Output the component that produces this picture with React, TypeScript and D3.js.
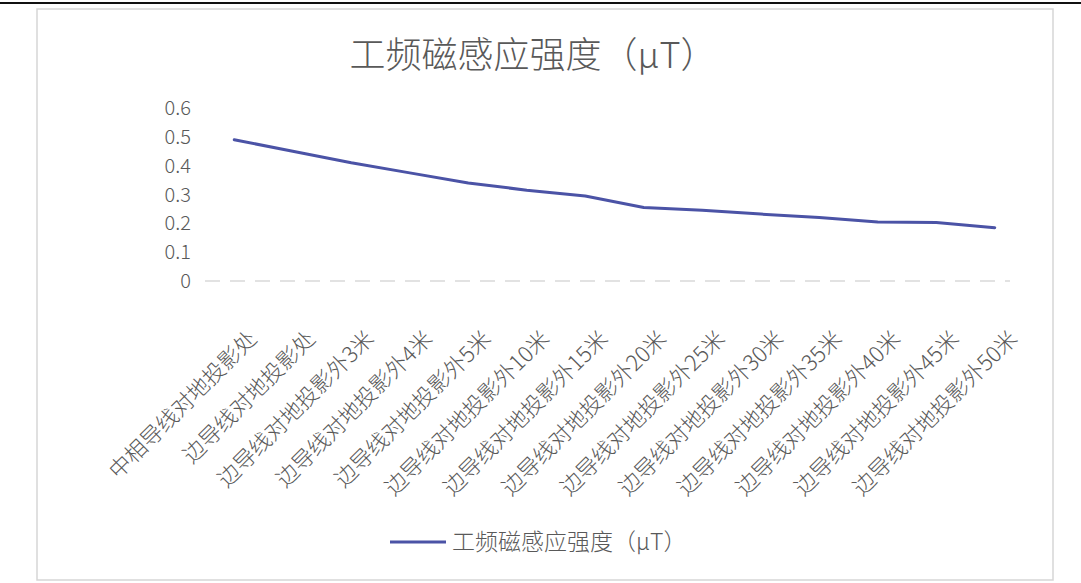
import React from "react";
import * as d3 from "d3";

const categories: string[] = [
  "中相导线对地投影处",
  "边导线对地投影处",
  "边导线对地投影外3米",
  "边导线对地投影外4米",
  "边导线对地投影外5米",
  "边导线对地投影外10米",
  "边导线对地投影外15米",
  "边导线对地投影外20米",
  "边导线对地投影外25米",
  "边导线对地投影外30米",
  "边导线对地投影外35米",
  "边导线对地投影外40米",
  "边导线对地投影外45米",
  "边导线对地投影外50米",
];

const values: number[] = [0.49, 0.45, 0.41, 0.375, 0.34, 0.315, 0.295, 0.255, 0.245, 0.232, 0.22, 0.205, 0.203, 0.185];

const yTicks: number[] = [0, 0.1, 0.2, 0.3, 0.4, 0.5, 0.6];
const yTickLabels: string[] = ["0", "0.1", "0.2", "0.3", "0.4", "0.5", "0.6"];

const title = "工频磁感应强度（μT）";
const seriesName = "工频磁感应强度（μT）";

const W = 1081;
const H = 583;
const plotLeft = 205;
const plotRight = 1024;
const plotTop = 108;
const plotBottom = 281;

const FONT = "'Noto Sans CJK SC', 'Noto Sans', sans-serif";
const TEXT = "#595959";
const LINE = "#4b53a6";

export default function App() {
  const x = d3.scaleBand<string>().domain(categories).range([plotLeft, plotRight]);
  const cx = (c: string) => (x(c) as number) + x.bandwidth() / 2;
  const y = d3.scaleLinear().domain([0, 0.6]).range([plotBottom, plotTop]);
  const line = d3
    .line<number>()
    .x((_, i) => cx(categories[i]))
    .y((d) => y(d));

  return (
    <svg
      width={W}
      height={H}
      viewBox={`0 0 ${W} ${H}`}
      style={{ position: "absolute", left: 0, top: 0, background: "#fff" }}
      fontFamily={FONT}
      fontWeight={300}
    >
      <rect x={0} y={0} width={W} height={H} fill="#fff" />
      <line x1={0} x2={W} y1={3} y2={3} stroke="#111" strokeWidth={2} />
      <rect x={37} y={9} width={1016} height={571} fill="#fff" stroke="#d6d6d6" strokeWidth={1.5} />

      <text x={533} y={68} textAnchor="middle" fontSize={36} fill={TEXT}>
        {title}
      </text>

      {yTicks.map((t, i) => (
        <text key={t} x={191} y={y(t)} dy="0.35em" textAnchor="end" fontSize={20} fill={TEXT}>
          {yTickLabels[i]}
        </text>
      ))}

      <line
        x1={plotLeft}
        x2={plotRight - 14}
        y1={y(0)}
        y2={y(0)}
        stroke="#d9d9d9"
        strokeWidth={1.5}
        strokeDasharray="15 10"
      />

      <path d={line(values) || ""} fill="none" stroke={LINE} strokeWidth={3} strokeLinejoin="round" strokeLinecap="round" />

      {categories.map((c) => {
        const px = cx(c) + 17;
        const py = 333;
        return (
          <text
            key={c}
            x={px}
            y={py}
            transform={`rotate(-45 ${px} ${py})`}
            textAnchor="end"
            dominantBaseline="central"
            fontSize={22}
            fill={TEXT}
          >
            {c}
          </text>
        );
      })}

      <g>
        <line x1={390} x2={446} y1={542} y2={542} stroke={LINE} strokeWidth={3} />
        <text x={452} y={542} dy="0.35em" fontSize={23} fill={TEXT}>
          {seriesName}
        </text>
      </g>
    </svg>
  );
}
